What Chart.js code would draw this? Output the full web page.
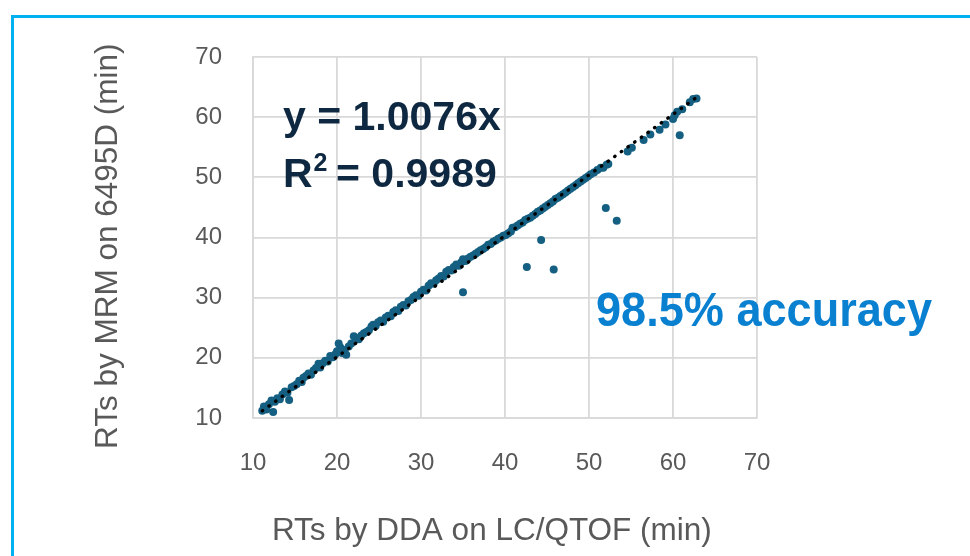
<!DOCTYPE html>
<html>
<head>
<meta charset="utf-8">
<script src="https://cdn.jsdelivr.net/npm/chart.js@4.4.1/dist/chart.umd.min.js"></script>
<style>
    html, body { margin: 0; padding: 0; background: #fff; overflow: hidden; }
    #frame { position: absolute; left: 11px; top: 15px; width: 1100px; height: 700px; border: 3px solid #00b0f0; box-sizing: border-box; }
    #wrap { position: absolute; left: 0; top: 0; width: 970px; height: 556px; }
</style>
</head>
<body>
<div id="frame"></div>
<div id="wrap"><canvas id="myChart" width="970" height="556"></canvas></div>
<script>
// retention times (min)
const ddaRT = [
    11.1, 11.3, 11.6, 11.9, 12.2, 12.4, 12.6, 12.9, 13.2, 13.5,
    13.8, 14.1, 14.3, 14.6, 14.9, 15.2, 15.5, 15.8, 16.0, 16.3,
    16.6, 16.9, 17.2, 17.5, 17.8, 18.0, 18.3, 18.6, 18.9, 19.2,
    19.5, 19.8, 20.0, 20.2, 20.4, 20.6, 20.9, 21.1, 21.4, 21.7,
    22.0, 22.3, 22.6, 22.9, 23.2, 23.5, 23.8, 24.1, 24.3, 24.6,
    24.9, 25.2, 25.5, 25.8, 26.1, 26.4, 26.7, 27.0, 27.3, 27.6,
    27.9, 28.2, 28.5, 28.8, 29.1, 29.4, 29.7, 30.0, 30.3, 30.6,
    30.9, 31.2, 31.5, 31.8, 32.1, 32.4, 32.7, 33.0, 33.3, 33.6,
    33.9, 34.2, 34.5, 34.8, 35.0, 35.0, 35.3, 35.6, 35.9, 36.2,
    36.5, 36.8, 37.1, 37.4, 37.7, 38.0, 38.3, 38.6, 38.9, 39.2,
    39.5, 39.8, 40.1, 40.4, 40.7, 40.9, 41.2, 41.5, 41.8, 42.1,
    42.4, 42.6, 42.7, 43.0, 43.3, 43.6, 43.9, 44.2, 44.3, 44.5,
    44.8, 45.1, 45.4, 45.7, 45.8, 46.0, 46.3, 46.6, 46.9, 47.2,
    47.5, 47.8, 48.1, 48.4, 48.7, 49.0, 49.3, 49.6, 49.9, 50.2,
    50.6, 51.0, 51.4, 51.7, 52.0, 52.1, 52.3, 53.3, 54.6, 55.1,
    56.5, 57.3, 58.4, 59.1, 60.0, 60.2, 60.5, 60.8, 61.1, 62.0,
    62.4, 62.8
];
const mrmRT = [
    11.2, 11.9, 11.4, 12.3, 12.9, 11.0, 12.7, 13.3, 13.1, 13.9,
    14.4, 14.2, 13.0, 15.1, 15.3, 15.6, 16.2, 16.0, 16.7, 17.0,
    17.4, 17.2, 17.9, 18.3, 19.0, 18.4, 19.1, 19.5, 19.4, 20.3,
    20.1, 20.6, 21.1, 22.4, 21.7, 20.8, 21.3, 20.5, 21.9, 22.4,
    23.6, 23.3, 23.1, 23.7, 24.1, 24.3, 24.6, 25.2, 25.5, 25.3,
    25.9, 26.2, 26.0, 26.7, 27.0, 26.9, 27.6, 27.9, 27.8, 28.5,
    28.8, 28.7, 29.4, 29.6, 30.1, 30.4, 30.3, 31.0, 31.3, 31.2,
    32.0, 32.4, 32.3, 32.9, 33.2, 33.6, 33.5, 34.3, 34.6, 34.5,
    35.1, 35.5, 35.3, 35.9, 36.4, 30.9, 36.1, 36.5, 36.8, 37.0,
    37.3, 37.6, 37.9, 38.1, 38.4, 38.8, 38.9, 39.3, 39.5, 39.8,
    40.0, 40.3, 40.4, 40.7, 41.0, 41.6, 41.7, 42.0, 42.3, 42.5,
    42.9, 35.1, 43.1, 43.3, 43.6, 43.9, 44.3, 44.5, 39.6, 44.8,
    45.1, 45.4, 45.7, 46.0, 34.7, 46.4, 46.6, 46.9, 47.2, 47.5,
    47.8, 48.1, 48.4, 48.7, 49.0, 49.3, 49.6, 49.9, 50.2, 50.5,
    50.8, 51.2, 51.6, 51.6, 44.9, 52.1, 52.2, 42.8, 54.3, 54.9,
    56.2, 57.1, 57.9, 58.8, 59.7, 60.3, 60.9, 57.0, 61.3, 62.5,
    63.0, 63.1
];
const axisTicks = [10, 20, 30, 40, 50, 60, 70];
const trendSlope = 1.0076;
const trendRange = [11.1, 62.8];
const eqLabel = "y = 1.0076x";
const r2Label = "0.9989";
const accuracyLabel = "98.5% accuracy";

const points = ddaRT.map((x, i) => ({ x: x, y: mrmRT[i] }));
const trend = trendRange.map((x) => ({ x: x, y: trendSlope * x }));

const gray = "#595959";
const gridColor = "#d9d9d9";
const family = "'Liberation Sans', Arial, sans-serif";

const annotations = {
    id: "annotations",
    afterDatasetsDraw(chart) {
        const ctx = chart.ctx;
        ctx.save();
        ctx.textBaseline = "alphabetic";
        ctx.textAlign = "left";

        // regression text
        ctx.fillStyle = "#0e2841";
        ctx.font = `bold 41px ${family}`;
        ctx.fillText(eqLabel, 283, 130);
        ctx.fillText("R", 283, 187);
        const rw = ctx.measureText("R").width;
        ctx.fillText(" = " + r2Label, 283 + rw + 12, 187);
        ctx.font = `bold 25px ${family}`;
        ctx.fillText("2", 283 + rw + 1, 171);

        // accuracy note, squeezed to the narrow look
        ctx.fillStyle = "#0a80d0";
        ctx.font = `bold 48px ${family}`;
        const aw = ctx.measureText(accuracyLabel).width;
        ctx.translate(596, 326);
        ctx.scale(336 / aw, 1);
        ctx.fillText(accuracyLabel, 0, 0);
        ctx.restore();
    },
};

function axis(title, size) {
    return {
        type: "linear",
        min: 10,
        max: 70,
        afterBuildTicks: (scale) => {
            scale.ticks = axisTicks.map((v) => ({ value: v }));
        },
        afterFit: size,
        grid: { color: gridColor, lineWidth: 1.8, drawTicks: false },
        border: { color: gridColor, width: 1.8 },
        ticks: {
            color: gray,
            padding: 31,
            font: { family: family, size: 24 },
        },
        title: {
            display: true,
            text: title,
            color: gray,
            padding: 0,
            font: { family: family, size: 31.5 },
        },
    };
}

const ctx = document.getElementById("myChart").getContext("2d");

new Chart(ctx, {
    type: "scatter",
    data: {
        datasets: [
            {
                type: "line",
                data: trend,
                borderColor: "#000",
                borderWidth: 3.4,
                borderDash: [0.5, 7.7],
                borderCapStyle: "round",
                pointRadius: 0,
                fill: false,
            },
            {
                data: points,
                backgroundColor: "#156082",
                borderWidth: 0,
                pointRadius: 4,
            },
        ],
    },
    options: {
        responsive: false,
        animation: false,
        layout: { padding: { left: 89, top: 57, right: 213, bottom: 6 } },
        plugins: {
            legend: { display: false },
            tooltip: { enabled: false },
        },
        scales: {
            x: axis("RTs by DDA on LC/QTOF (min)\u00a0\u00a0\u00a0", (s) => { s.height = 132; }),
            y: axis("RTs by MRM on 6495D (min)\u00a0\u00a0", (s) => { s.width = 164; }),
        },
    },
    plugins: [annotations],
});
</script>
</body>
</html>
